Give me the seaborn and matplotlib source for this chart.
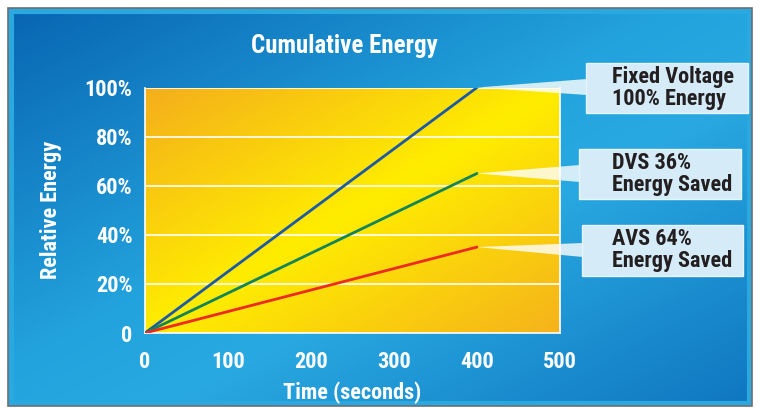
import numpy as np
import pandas as pd
import seaborn as sns
import matplotlib.pyplot as plt
from matplotlib.colors import LinearSegmentedColormap
from matplotlib.patches import Rectangle, Polygon

# Data
time_s = [0, 400]
fixed_voltage = [0, 100]
dvs = [0, 65]
avs = [0, 35]
series_names = ['Fixed Voltage', 'DVS', 'AVS']
callouts = ['Fixed Voltage\n100% Energy', 'DVS 36%\nEnergy Saved', 'AVS 64%\nEnergy Saved']
x_ticks = [0, 100, 200, 300, 400, 500]
y_ticks = [0, 20, 40, 60, 80, 100]
y_tick_labels = ['0', '20%', '40%', '60%', '80%', '100%']

df = pd.concat([
    pd.DataFrame({'time': time_s, 'energy': fixed_voltage, 'series': 'Fixed Voltage'}),
    pd.DataFrame({'time': time_s, 'energy': dvs, 'series': 'DVS'}),
    pd.DataFrame({'time': time_s, 'energy': avs, 'series': 'AVS'}),
])

sns.set_style('white')
plt.rcParams['font.family'] = ['Roboto Condensed', 'Archivo Narrow', 'DejaVu Sans']
plt.rcParams['font.weight'] = 'bold'

W, H = 759, 409
fig = plt.figure(figsize=(W / 100, H / 100), dpi=100)
fig.patch.set_facecolor('white')


def px(x, y):
    return (x / W, 1 - y / H)


# blue gradient background
bg = fig.add_axes([px(8, 0)[0], px(0, 406)[1], (752 - 8) / W, (406 - 8) / H], zorder=-5)
gx, gy = np.meshgrid(np.linspace(0, 1, 300), np.linspace(0, 1, 200))
s = gx + gy
blue_cmap = LinearSegmentedColormap.from_list(
    'bl', [(0, '#0865b2'), (0.45, '#23a3dd'), (0.6, '#29a9e1'), (1, '#0f76c0')])
bg.imshow(s, cmap=blue_cmap, vmin=0, vmax=2, aspect='auto', extent=[0, 1, 0, 1], origin='upper')
bg.add_patch(Rectangle((0, 0), 1, 1, transform=bg.transAxes, fill=False,
                       edgecolor='#2aa8e0', lw=8))
bg.set_axis_off()
fig.add_artist(Rectangle(px(8, 406), (752 - 8) / W, (406 - 8) / H, transform=fig.transFigure,
                         fill=False, edgecolor='#6d6e71', lw=1.2))

ax = fig.add_axes([145 / W, 1 - 333 / H, 415 / W, 245.5 / H])
yel_cmap = LinearSegmentedColormap.from_list(
    'yl', [(0, '#f4ae1c'), (0.5, '#ffed00'), (1, '#f5b31b')])
ax.imshow(s, cmap=yel_cmap, vmin=0, vmax=2, aspect='auto', extent=[0, 500, 0, 100],
          origin='upper', zorder=-1)

palette = {'Fixed Voltage': '#1d5aa6', 'DVS': '#118557', 'AVS': '#ee2a24'}
sns.lineplot(data=df, x='time', y='energy', hue='series', hue_order=series_names,
             palette=palette, lw=2, legend=False, ax=ax, zorder=3)

ax.set_xlim(0, 500)
ax.set_ylim(0, 100)
ax.set_xticks(x_ticks)
ax.set_yticks(y_ticks)
ax.set_yticklabels(y_tick_labels)
for y in y_ticks[1:]:
    ax.axhline(y, color='white', lw=1.2, zorder=1)
for sp in ['left', 'bottom', 'right']:
    ax.spines[sp].set_color('white')
    ax.spines[sp].set_linewidth(1.2)
ax.spines['top'].set_visible(False)
ax.tick_params(axis='both', colors='white', labelsize=16, width=1.2, length=5)
ax.tick_params(axis='x', pad=8)
ax.tick_params(axis='y', pad=4)
for lbl in ax.get_xticklabels() + ax.get_yticklabels():
    lbl.set_fontweight('bold')
ax.set_xlabel('Time (seconds)', color='white', fontsize=16, fontweight='bold', labelpad=6)
ax.set_ylabel('Relative Energy', color='white', fontsize=16, fontweight='bold', labelpad=16)

fig.text(344 / W, 1 - 46 / H, 'Cumulative Energy', color='white', fontsize=18,
         fontweight='bold', ha='center', va='center')

# callout boxes with pointer wedges
boxes = [(586, 63, 162, 50, 79, 95), (579, 149, 162, 50, 165, 182), (582, 225, 161, 51, 243, 257)]
ends = [fixed_voltage[-1], dvs[-1], avs[-1]]
inv = fig.transFigure.inverted()
for (bx, by, bw, bh, wy0, wy1), end, txt in zip(boxes, ends, callouts):
    tip = inv.transform(ax.transData.transform((time_s[-1], end)))
    wedge = Polygon([tip, px(bx + 1, wy0), px(bx + 1, wy1)], closed=True,
                    transform=fig.transFigure, facecolor='white', alpha=0.8,
                    edgecolor='none', zorder=4)
    fig.add_artist(wedge)
    fig.add_artist(Rectangle(px(bx, by + bh), bw / W, bh / H, transform=fig.transFigure,
                             facecolor='#d5ecf8', edgecolor='#e6f4fb', lw=1, zorder=5))
    fig.text(612 / W, 1 - (by + bh / 2) / H, txt, color='#231f20', fontsize=16,
             fontweight='bold', ha='left', va='center', linespacing=1.0, zorder=6)

fig.savefig('out.png', dpi=100)
